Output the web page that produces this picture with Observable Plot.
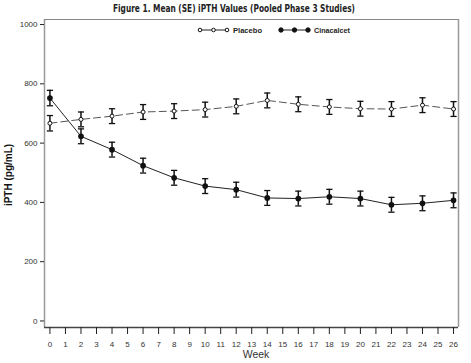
<!DOCTYPE html>
<html><head><meta charset="utf-8">
<script src="https://cdn.jsdelivr.net/npm/d3@7"></script>
<script src="https://cdn.jsdelivr.net/npm/@observablehq/plot@0.6"></script>
<style>
body{margin:0;background:#fff;}
#wrap{position:relative;width:471px;height:363px;}
</style></head>
<body><div id="wrap"></div>
<script>
const weeks = [0,2,4,6,8,10,12,14,16,18,20,22,24,26];
const placebo = [667,680,691,705,708,713,724,744,731,722,716,715,728,715];
const placeboSE = [26,25,25,25,25,25,25,25,25,25,25,25,25,25];
const cinacalcet = [752,623,578,524,483,455,443,415,413,419,413,392,397,407];
const cinacalcetSE = [26,25,25,25,25,25,25,25,25,25,25,25,25,25];
const xTicks = d3.range(0,27);
const yTicks = [0,200,400,600,800,1000];
const seriesNames = ["Placebo","Cinacalcet"];
const titleText = "Figure 1. Mean (SE) iPTH Values (Pooled Phase 3 Studies)";

const rows = [];
weeks.forEach((w,i)=>{
  rows.push({week:w, series:"Placebo", v:placebo[i], se:placeboSE[i]});
  rows.push({week:w, series:"Cinacalcet", v:cinacalcet[i], se:cinacalcetSE[i]});
});
const P = rows.filter(d=>d.series==="Placebo");
const C = rows.filter(d=>d.series==="Cinacalcet");
const cap = 0.2;
const xLo = -0.35, xHi = 26.32, yLo = -22, yHi = 1017;

const chart = Plot.plot({
  width:471, height:363,
  marginTop:19, marginBottom:36, marginLeft:44, marginRight:13,
  style:{fontFamily:"Liberation Sans, Arial, sans-serif", fontSize:"8px", color:"#333", background:"#fff"},
  x:{domain:[xLo,xHi]},
  y:{domain:[yLo,yHi]},
  marks:[
    Plot.ruleX([xLo],{stroke:"#999", strokeWidth:1.5}),
    Plot.ruleX([xHi],{stroke:"#999", strokeWidth:1.5}),
    Plot.ruleY([yHi],{stroke:"#888", strokeWidth:1.2}),
    Plot.ruleY([yLo],{stroke:"#444", strokeWidth:1.5}),
    Plot.axisY({ticks:yTicks, tickSize:4, tickPadding:3, label:null, tickFormat:d=>String(d), stroke:"#222"}),
    Plot.axisX({ticks:xTicks, tickSize:7, tickPadding:7, label:null, tickFormat:d=>String(d), stroke:"#222", fontSize:"8px"}),
    Plot.line(P,{x:"week", y:"v", stroke:"#555", strokeWidth:1, strokeDasharray:"7,4"}),
    Plot.line(C,{x:"week", y:"v", stroke:"#222", strokeWidth:1}),
    Plot.ruleX(rows,{x:"week", y1:d=>d.v-d.se, y2:d=>d.v+d.se, stroke:"#111", strokeWidth:1.5}),
    Plot.link(rows,{x1:d=>d.week-cap, x2:d=>d.week+cap, y1:d=>d.v+d.se, y2:d=>d.v+d.se, stroke:"#111", strokeWidth:1.3}),
    Plot.link(rows,{x1:d=>d.week-cap, x2:d=>d.week+cap, y1:d=>d.v-d.se, y2:d=>d.v-d.se, stroke:"#111", strokeWidth:1.3}),
    Plot.dot(P,{x:"week", y:"v", r:2, fill:"#fff", stroke:"#111", strokeWidth:1}),
    Plot.dot(C,{x:"week", y:"v", r:2.1, fill:"#111", stroke:"#111"})
  ]
});
document.getElementById("wrap").appendChild(chart);
const svg = d3.select(chart);
svg.append("text").attr("x",113).attr("y",12).attr("text-anchor","start")
  .attr("textLength",242).attr("lengthAdjust","spacingAndGlyphs")
  .attr("font-family","DejaVu Sans Condensed, Liberation Sans, sans-serif").attr("font-weight","bold").attr("font-size","11px").attr("fill","#222").text(titleText);
svg.append("text").attr("transform","translate(12,175) rotate(-90)").attr("text-anchor","middle")
  .attr("font-family","Liberation Sans, Arial, sans-serif").attr("font-weight","bold").attr("font-size","10px").attr("fill","#111").text("iPTH (pg/mL)");
svg.append("text").attr("x",256).attr("y",358).attr("text-anchor","middle")
  .attr("font-family","Liberation Sans, Arial, sans-serif").attr("font-size","10.5px").attr("fill","#333").text("Week");
// legend
const lg = svg.append("g").attr("font-family","Liberation Sans, Arial, sans-serif").attr("font-weight","bold").attr("font-size","7.5px").attr("fill","#222").attr("text-anchor","start");
const legendItems = [{name:seriesNames[0], x0:200, fill:"#fff", r:1.8, tx:233, tw:29}, {name:seriesNames[1], x0:281, fill:"#111", r:2.2, tx:314, tw:36}];
legendItems.forEach(it=>{
  lg.append("line").attr("x1",it.x0).attr("x2",it.x0+27).attr("y1",30).attr("y2",30).attr("stroke","#222").attr("stroke-width",1);
  [0,13.5,27].forEach(dx=>lg.append("circle").attr("cx",it.x0+dx).attr("cy",30).attr("r",it.r).attr("fill",it.fill).attr("stroke","#111"));
  lg.append("text").attr("x",it.tx).attr("y",32.8).attr("textLength",it.tw).attr("lengthAdjust","spacingAndGlyphs").text(it.name);
});
</script></body></html>
